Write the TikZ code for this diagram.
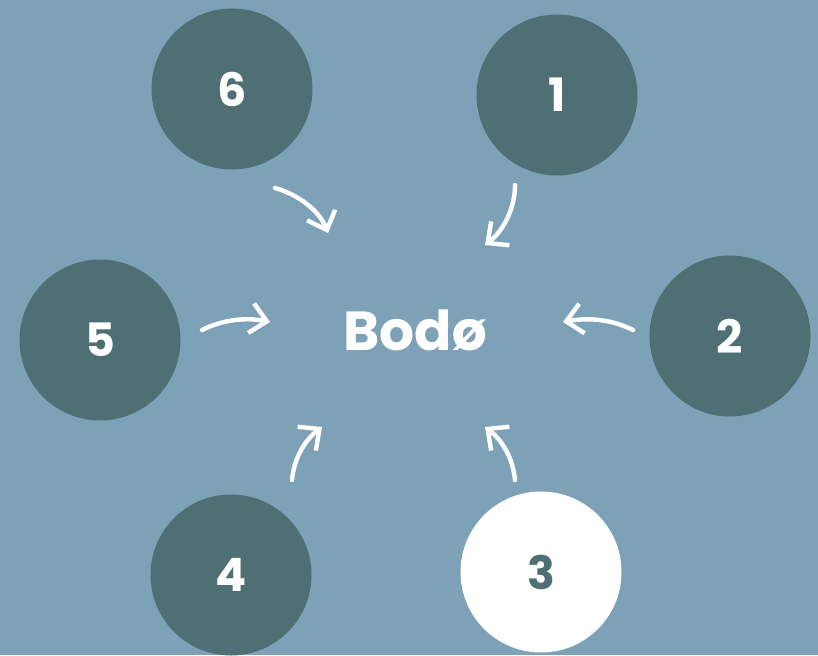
\documentclass[tikz,border=0pt]{standalone}
\usepackage{fontspec}
\setmainfont{Poppins}
\usetikzlibrary{arrows.meta}
\definecolor{bgblue}{HTML}{7DA2B8}
\definecolor{teal}{HTML}{4E7074}
\tikzstyle{arrow} = [white,line width=4.4pt,line cap=round,-{Straight Barb[length=16pt,width=30pt]}]
\tikzstyle{place} = [circle,minimum size=161pt,inner sep=0pt,fill=teal,text=white,font=\fontsize{46}{46}\selectfont\bfseries]

\begin{document}
\begin{tikzpicture}[x=1pt,y=-1pt]
            % background
            \fill[bgblue] (0,0) rectangle (818,655);
            \useasboundingbox (0,0) rectangle (818,655);

            % places round the town
            \node[place] (p6) at (232,89) {6};
            \node[place] (p1) at (557,95) {1};
            \node[place] (p5) at (100,340) {5};
            \node[place] (p2) at (730,336) {2};
            \node[place] (p4) at (231,575) {4};
            \node[place,fill=white,text=teal] (p3) at (541,572) {3};

            % town
            \node[text=white,font=\fontsize{55}{55}\selectfont\bfseries] (town) at (415,330) {Bodø};

            % arrow ends
            \coordinate (s6) at (275,188);  \coordinate (e6) at (328,233);
            \coordinate (s1) at (515,185);  \coordinate (e1) at (485,245);
            \coordinate (s5) at (202,330);  \coordinate (e5) at (270,322);
            \coordinate (s2) at (633,330);  \coordinate (e2) at (563,322);
            \coordinate (s4) at (292,480);  \coordinate (e4) at (322,427);
            \coordinate (s3) at (515,480);  \coordinate (e3) at (485,427);

            % arrows
            \draw[arrow] (s6) .. controls (300,195) and (320,212) .. (e6);
            \draw[arrow] (s1) .. controls (515,210) and (502,232) .. (e1);
            \draw[arrow] (s5) .. controls (222,320) and (245,317) .. (e5);
            \draw[arrow] (s2) .. controls (613,320) and (590,317) .. (e2);
            \draw[arrow] (s4) .. controls (294,458) and (305,440) .. (e4);
            \draw[arrow] (s3) .. controls (513,458) and (502,440) .. (e3);
        \end{tikzpicture}
\end{document}
